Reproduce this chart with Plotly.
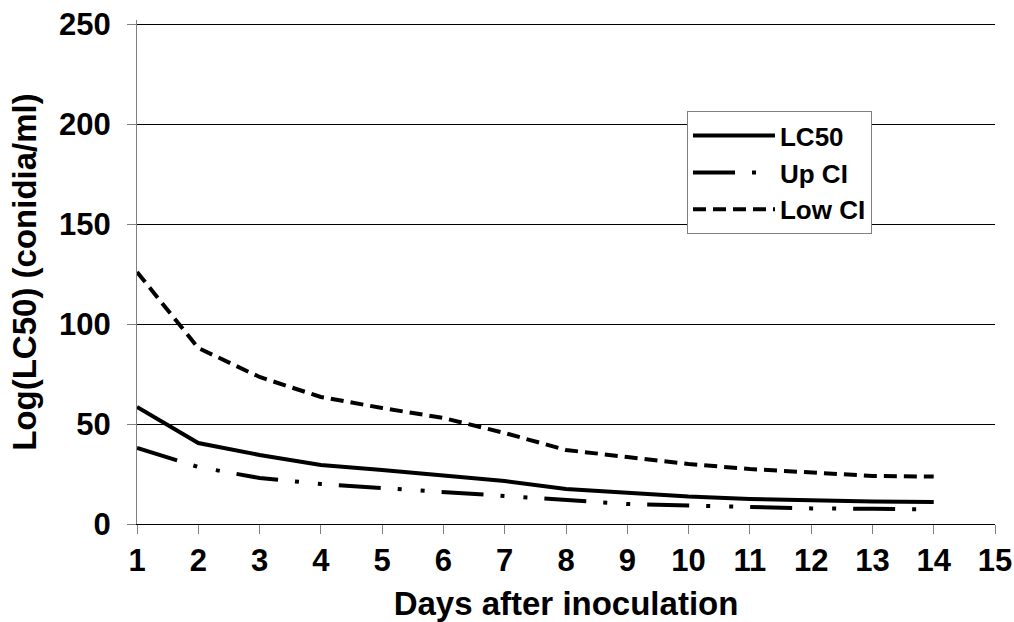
import plotly.graph_objects as go

days = list(range(1, 15))
lc50 = [58.5, 40.5, 34.5, 29.5, 27.0, 24.5, 21.5, 17.5, 15.5, 13.7, 12.5, 11.6, 11.2, 11.0]
up_ci = [38.0, 28.5, 23.0, 20.0, 18.0, 16.0, 14.0, 11.5, 10.0, 9.2, 8.3, 7.8, 7.6, 7.3]
low_ci = [126.0, 88.0, 73.5, 63.5, 58.0, 53.0, 45.5, 37.0, 33.5, 30.0, 27.5, 25.5, 24.0, 23.7]

x_ticks = list(range(1, 16))
y_ticks = [0, 50, 100, 150, 200, 250]

FONT = "Liberation Sans, Arial, sans-serif"

fig = go.Figure()
fig.add_trace(go.Scatter(x=days, y=lc50, mode="lines", name="LC50", legendgroup="a",
                         line=dict(color="black", width=4, dash="solid")))
fig.add_trace(go.Scatter(x=days, y=up_ci, mode="lines", name="Up CI", legendgroup="b",
                         line=dict(color="black", width=4, dash="42px,17px,4px,19px,4px,17px")))
fig.add_trace(go.Scatter(x=days, y=low_ci, mode="lines", name="Low CI", legendgroup="c",
                         line=dict(color="black", width=4, dash="13px,7px")))

fig.update_layout(
    width=1014, height=622,
    margin=dict(l=137, r=19, t=20, b=98),
    paper_bgcolor="white", plot_bgcolor="white",
    font=dict(family=FONT, color="black", size=22, weight="bold"),
    legend=dict(x=0.641, y=0.819, xanchor="left", yanchor="top",
                bgcolor="white", bordercolor="#808080", borderwidth=1,
                font=dict(family=FONT, size=26, color="black", weight="bold"),
                itemwidth=82,
                traceorder="grouped", tracegroupgap=0),
    xaxis=dict(range=[1, 15], tickvals=x_ticks, ticktext=[str(v) for v in x_ticks],
               automargin=False,
               showgrid=False, zeroline=False, showline=True, linecolor="black", linewidth=1,
               ticks="outside", ticklen=9, tickcolor="#808080",
               tickfont=dict(family=FONT, size=31, weight="bold"),
               title=dict(text="Days after inoculation", standoff=14,
                          font=dict(family=FONT, size=33, weight="bold"))),
    yaxis=dict(range=[0, 252], tickvals=y_ticks, showgrid=True, gridcolor="black", gridwidth=1,
               automargin=False,
               zeroline=False, showline=True, linecolor="#808080", linewidth=1,
               ticks="outside", ticklen=9, tickcolor="#808080", ticklabelstandoff=10,
               tickfont=dict(family=FONT, size=31, weight="bold"),
               title=dict(text="Log(LC50) (conidia/ml)", standoff=12,
                          font=dict(family=FONT, size=33, weight="bold"))),
)

# remove the default page margin so the 1014x622 figure fills the window exactly
fig.write_html("out.html",
               config={"displayModeBar": False},
               post_script="document.body.style.margin='0';document.body.style.overflow='hidden';")
